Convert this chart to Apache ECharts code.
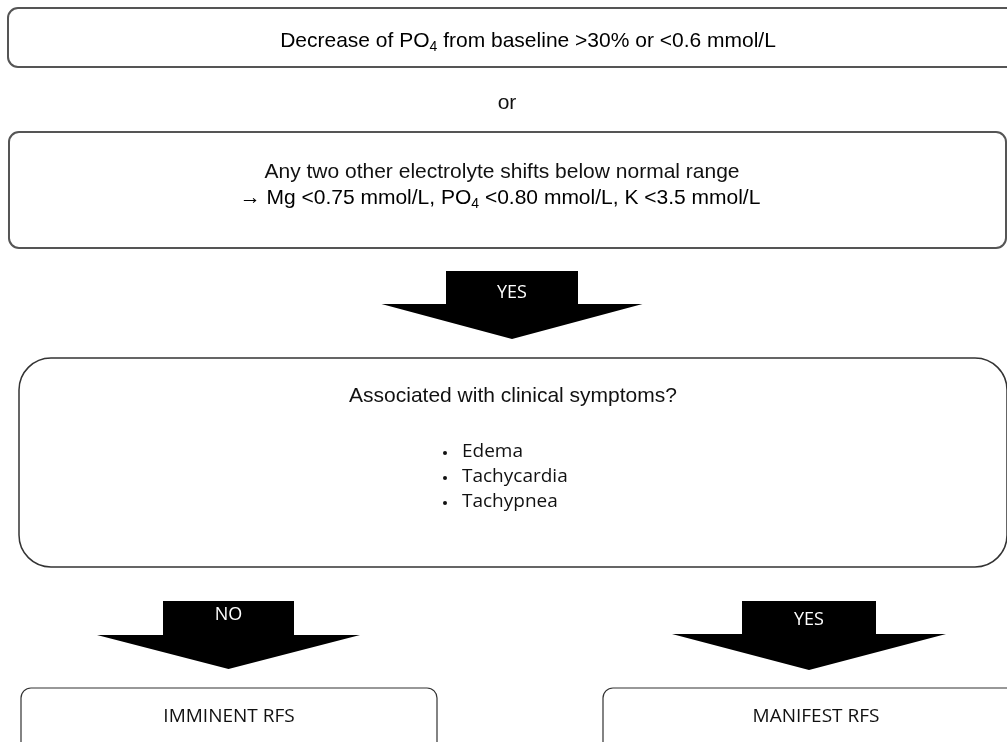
<!DOCTYPE html>
<html>
<head>
    <meta charset="utf-8" />
    <title>RFS flowchart</title>
    <style>
    body { margin: 0; background: #fff; }
    #chart { width: 1007px; height: 742px; }
    </style>
    <script src="https://cdn.jsdelivr.net/npm/echarts@6/dist/echarts.min.js"></script>
</head>
<body>
    <div id="chart"></div>
    <script>
    // texts of the flowchart
    var firstCriterion = ['Decrease of PO', '4', ' from baseline >30% or <0.6 mmol/L'];
    var joinWord = 'or';
    var secondCriterion = ['Any two other electrolyte shifts below normal range',
        '\u2192 Mg <0.75 mmol/L, PO', '4', ' <0.80 mmol/L, K <3.5 mmol/L'];
    var question = 'Associated with clinical symptoms?';
    var symptoms = ['Edema', 'Tachycardia', 'Tachypnea'];
    var arrowLabels = ['YES', 'NO', 'YES'];
    var outcomes = ['IMMINENT RFS', 'MANIFEST RFS'];

    var sans = '"Liberation Sans", Arial, sans-serif';
    var myriad = '"Open Sans", "Noto Sans", sans-serif';

    var richSub = {
        n: { fontSize: 21, fontFamily: sans, color: '#111', lineHeight: 26 },
        s: { fontSize: 14, fontFamily: sans, color: '#111', lineHeight: 15, verticalAlign: 'bottom' }
    };

    function box(x, y, w, h, r, lw, color) {
        return {
            type: 'rect',
            shape: { x: x, y: y, width: w, height: h, r: r },
            style: { fill: '#fff', stroke: color || '#333', lineWidth: lw }
        };
    }

    function label(x, y, text, size, font, color) {
        return {
            type: 'text', x: x, y: y,
            style: { text: text, fontSize: size, fontFamily: font, fill: color || '#111',
                align: 'center', verticalAlign: 'middle' }
        };
    }

    // block arrow: rectangle stem on top, wide triangle head below
    function arrow(cx, rw, top, mid, tw, tip, text, ty) {
        return [{
            type: 'polygon',
            shape: { points: [[cx - rw, top], [cx + rw, top], [cx + rw, mid], [cx + tw, mid],
                [cx, tip], [cx - tw, mid], [cx - rw, mid]] },
            style: { fill: '#000' }
        }, label(cx, ty, text, 18, myriad, '#fff')];
    }

    var elements = [];

    // criterion 1
    elements.push(box(8, 8, 1045, 59, 10, 2, '#555'));
    elements.push({
        type: 'text', x: 528, y: 41,
        style: { text: '{n|' + firstCriterion[0] + '}{s|' + firstCriterion[1] + '}{n|' + firstCriterion[2] + '}',
            rich: richSub, align: 'center', verticalAlign: 'middle' }
    });
    elements.push(label(507, 103, joinWord, 21, sans));

    // criterion 2
    elements.push(box(9, 132, 997, 116, 10, 2, '#555'));
    elements.push(label(502, 172, secondCriterion[0], 21, sans));
    elements.push({
        type: 'text', x: 500, y: 198,
        style: { text: '{n|' + secondCriterion[1] + '}{s|' + secondCriterion[2] + '}{n|' + secondCriterion[3] + '}',
            rich: richSub, align: 'center', verticalAlign: 'middle' }
    });

    elements = elements.concat(arrow(512, 66, 271, 304, 130.5, 339, arrowLabels[0], 293));

    // question box
    elements.push(box(19, 358, 988, 209, 32, 1.5, '#333'));
    elements.push(label(513, 396, question, 21, sans));
    symptoms.forEach(function (s, i) {
        var y = 452 + i * 25;
        elements.push({ type: 'circle', shape: { cx: 445, cy: y + 1, r: 2 }, style: { fill: '#111' } });
        elements.push({
            type: 'text', x: 462, y: y,
            style: { text: s, fontSize: 19, fontFamily: myriad, fill: '#111', align: 'left', verticalAlign: 'middle' }
        });
    });

    elements = elements.concat(arrow(228.5, 65.5, 601, 635, 131.5, 669, arrowLabels[1], 615));
    elements = elements.concat(arrow(809, 67, 601, 634, 137, 670, arrowLabels[2], 620));

    // outcomes
    elements.push(box(21, 688, 416, 90, 10, 1.2, '#333'));
    elements.push(label(229, 717, outcomes[0], 19, myriad));
    elements.push(box(603, 688, 430, 90, 10, 1.2, '#333'));
    elements.push(label(816, 717, outcomes[1], 19, myriad));

    var chart = echarts.init(document.getElementById('chart'));
    chart.setOption({
        backgroundColor: '#fff',
        animation: false,
        graphic: { elements: elements }
    });
    </script>
</body>
</html>
